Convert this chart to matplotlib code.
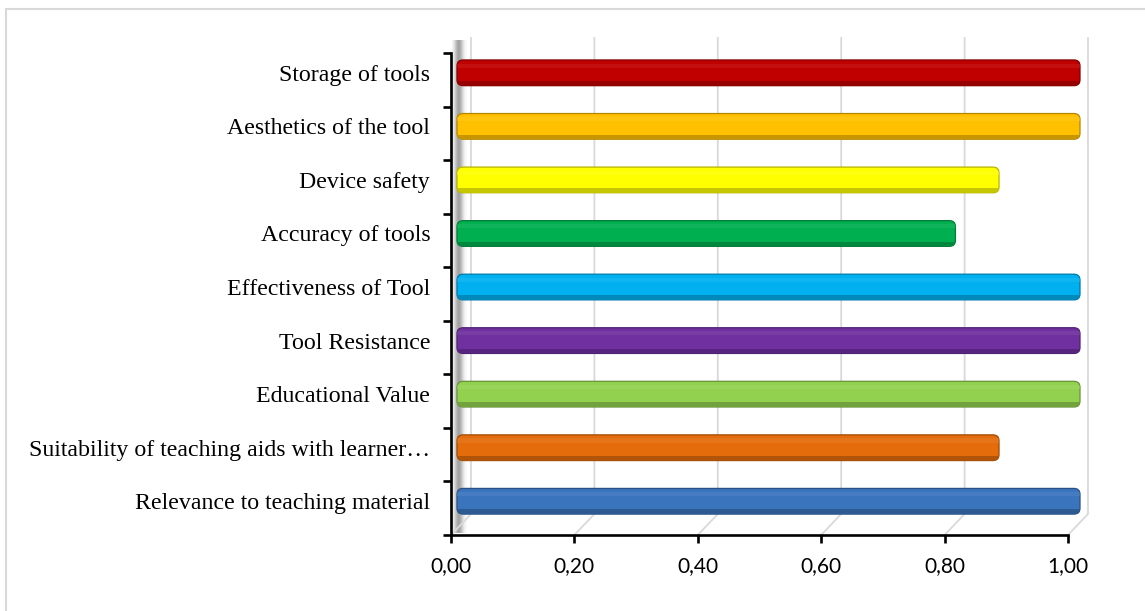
import numpy as np
import matplotlib
matplotlib.use("Agg")
import matplotlib.pyplot as plt
from matplotlib.patches import FancyBboxPatch, Rectangle
from matplotlib.transforms import Affine2D, IdentityTransform
from matplotlib.lines import Line2D
import matplotlib.colors as mcolors

# ---- data (bottom to top) ----
categories = [
    "Relevance to teaching material",
    "Suitability of teaching aids with learner\u2026",
    "Educational Value",
    "Tool Resistance",
    "Effectiveness of Tool",
    "Accuracy of tools",
    "Device safety",
    "Aesthetics of the tool",
    "Storage of tools",
]
values = [1.00, 0.87, 1.00, 1.00, 1.00, 0.80, 0.87, 1.00, 1.00]
colors = ["#3A74BD", "#E46C0A", "#92D050", "#7030A0", "#00B0F0",
          "#00B050", "#FFFF00", "#FFC000", "#C00000"]
xticks = [0.0, 0.2, 0.4, 0.6, 0.8, 1.0]
xticklabels = ["0,00", "0,20", "0,40", "0,60", "0,80", "1,00"]

W, H = 1145, 611
fig = plt.figure(figsize=(W / 100, H / 100), dpi=100)

# outer chart border (light gray)
fig.patches.append(Rectangle((6 / W, -0.05), 1.2, (H - 9) / H + 0.05,
                             transform=fig.transFigure, fill=False,
                             edgecolor="#D9D9D9", linewidth=1.5))

ax_left, ax_right, ax_top, ax_bot = 451, 1068, 53, 535
# left wall shading
wall = fig.add_axes([(ax_left + 1) / W, (H - ax_bot + 2) / H, 15 / W, (ax_bot - 42) / H], zorder=0)
xs = np.linspace(0, 1, 40)
prof = np.exp(-((xs - 0.45) / 0.3) ** 2) * 0.8
img = np.zeros((2, 40, 4))
img[..., :3] = 0.55
img[..., 3] = prof
wall.imshow(img, aspect="auto", extent=[0, 1, 0, 1])
wall.axis("off")

ax = fig.add_axes([ax_left / W, (H - ax_bot) / H, (ax_right - ax_left) / W,
                   (ax_bot - ax_top) / H], zorder=1)
ax.set_facecolor("none")
n = len(categories)
ax.set_xlim(0, 1.0)
ax.set_ylim(-0.63, n - 0.63)

# back-wall gridlines with perspective floor segments
fig.canvas.draw()
floor_y = H - ax_bot
for xv in xticks:
    px = ax.transData.transform((xv, 0))[0]
    pts_x = [px + 20, px + 20, px]
    pts_y = [H - 38, H - 514, floor_y]
    fig.add_artist(Line2D(pts_x, pts_y, transform=IdentityTransform(),
                          color="#D9D9D9", linewidth=1.3, zorder=0.5))

# bar transform: slight perspective stretch & shift
x0 = ax.transData.transform((0, 0))[0]
bar_t = ax.transData + Affine2D().translate(-x0, 0).scale(623 / 617, 1).translate(x0 + 6, 0)

bh = 0.48
px_per_x = 623.0
px_per_y = (ax_bot - ax_top) / n
aspect = px_per_x / px_per_y
r = 6 / px_per_x

def shade(c, f):
    rgb = np.array(mcolors.to_rgb(c))
    if f < 1:
        return tuple(rgb * f)
    return tuple(rgb + (1 - rgb) * (f - 1))

for i, (v, c) in enumerate(zip(values, colors)):
    y0 = i - bh / 2
    p = FancyBboxPatch((0, y0), v, bh,
                       boxstyle=f"round,pad=0,rounding_size={r}",
                       mutation_aspect=aspect, transform=bar_t,
                       facecolor=c, edgecolor=shade(c, 0.7), linewidth=0.9,
                       clip_on=False, zorder=3)
    ax.add_patch(p)
    # bottom dark band
    b = Rectangle((-0.01, y0), v + 0.03, bh * 0.18, transform=bar_t,
                  facecolor=shade(c, 0.78), edgecolor="none", zorder=4)
    ax.add_patch(b)
    b.set_clip_path(p)
    b.set_clip_box(None)
    # top light band
    t = Rectangle((-0.01, y0 + bh * 0.7), v + 0.03, bh * 0.16, transform=bar_t,
                  facecolor=shade(c, 1.12), edgecolor="none", zorder=4, alpha=0.5)
    ax.add_patch(t)
    t.set_clip_path(p)
    t.set_clip_box(None)

# axes styling
for s in ["top", "right"]:
    ax.spines[s].set_visible(False)
for s in ["left", "bottom"]:
    ax.spines[s].set_linewidth(1.9)
    ax.spines[s].set_color("black")

ax.set_yticks(range(n))
ax.set_yticklabels(categories, family="Liberation Serif", fontsize=17.2)
ax.tick_params(axis="y", which="major", length=0, pad=15)
ax.set_yticks(np.arange(n + 1) - 0.63, minor=True)
ax.tick_params(axis="y", which="minor", length=6, width=1.9, direction="out")

ax.set_xticks(xticks)
ax.set_xticklabels(xticklabels, family="Lato", fontsize=15)
ax.tick_params(axis="x", length=5.5, width=1.9, direction="out", pad=10)

fig.savefig("out.png", dpi=100)
